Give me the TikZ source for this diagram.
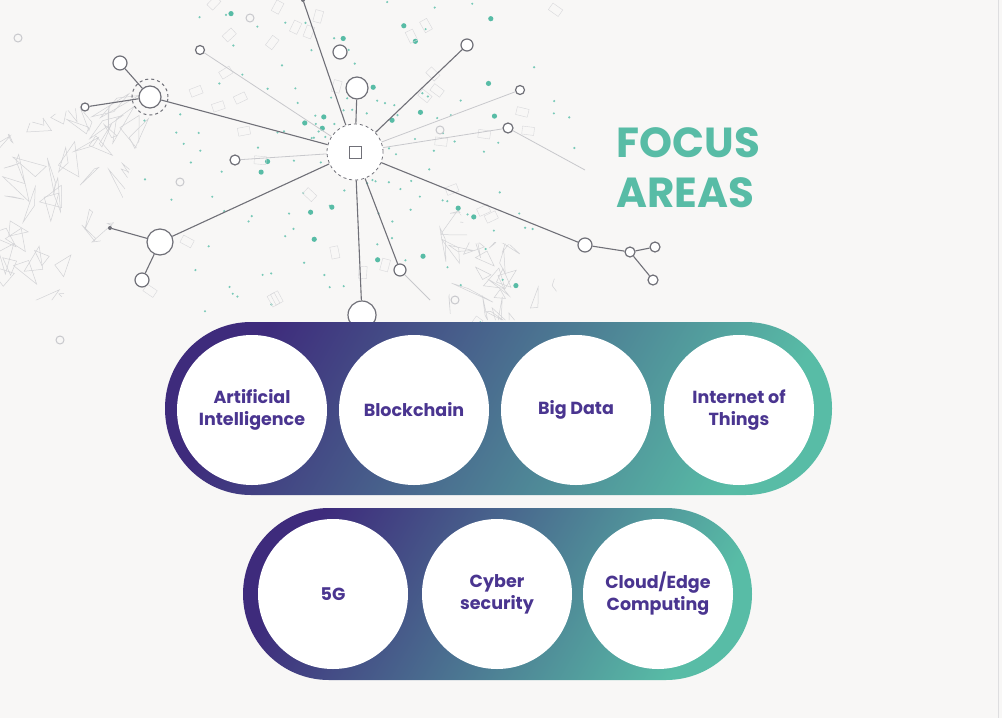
\documentclass[tikz,border=0pt]{standalone}
\usepackage{fontspec}
\setmainfont{Poppins}
\usetikzlibrary{calc}
\definecolor{bg}{HTML}{F8F7F6}
\definecolor{dpur}{HTML}{3E2B7C}
\definecolor{teal}{HTML}{58BCA6}
\definecolor{txt}{HTML}{4A3590}
\definecolor{lin}{HTML}{707078}
\definecolor{mesh}{HTML}{C8C8CC}
\tikzset{
 pill/.style={white,circle,fill=white,minimum size=150pt,inner sep=0pt,text=txt,font=\bfseries\fontsize{17.5}{22}\selectfont,align=center},
 net/.style={lin,line width=1.1pt},
 lnet/.style={mesh,line width=0.8pt},
 nd/.style={circle,draw=lin,fill=white,line width=1.2pt,inner sep=0pt,minimum size=#1},
 dt/.style={circle,fill=lin,inner sep=0pt,minimum size=4pt}
}
\begin{document}
\begin{tikzpicture}[x=1pt,y=-1pt]
\useasboundingbox (0,0) rectangle (1002,718);
\fill[bg] (0,0) rectangle (1002,718);
\draw[mesh!60,line width=1pt] (998,0) -- (998,718);
% hand meshes
\pgfmathsetseed{7}
\begin{scope}
\clip (0,140) .. controls (40,110) and (90,110) .. (130,90) -- (160,100) -- (140,140) .. controls (120,180) and (130,220) .. (90,250) -- (60,300) -- (0,300) -- cycle;
\foreach \i in {1,...,70}{
 \pgfmathsetmacro\ax{rnd*170}\pgfmathsetmacro\ay{90+rnd*210}
 \draw[mesh!80,line width=0.5pt] (\ax,\ay) -- ++(rnd*50-25,rnd*50-25) -- ++(rnd*50-25,rnd*50-25) -- cycle;}
\end{scope}
\begin{scope}
\clip (435,200) -- (455,195) -- (470,245) .. controls (500,235) and (540,250) .. (555,280) -- (560,320) -- (440,320) -- (445,260) -- cycle;
\foreach \i in {1,...,45}{
 \pgfmathsetmacro\ax{430+rnd*135}\pgfmathsetmacro\ay{195+rnd*130}
 \draw[mesh!80,line width=0.5pt] (\ax,\ay) -- ++(rnd*50-25,rnd*50-25) -- ++(rnd*50-25,rnd*50-25) -- cycle;}
\end{scope}
% scattered dots
\foreach \i in {1,...,140}{
 \pgfmathsetmacro\r{30+rnd*200}\pgfmathsetmacro\a{rnd*360}
 \fill[teal!80] ($(355,152)+(\a:\r)$) circle (1.2pt);}
\foreach \i in {1,...,25}{
 \pgfmathsetmacro\r{40+rnd*180}\pgfmathsetmacro\a{rnd*360}
 \fill[teal] ($(355,152)+(\a:\r)$) circle (2.6pt);}
\foreach \i in {1,...,40}{
 \pgfmathsetmacro\r{60+rnd*190}\pgfmathsetmacro\a{rnd*360}
 \draw[mesh!70,rotate around={\a:($(355,152)+(\a:\r)$)}] ($(355,152)+(\a:\r)+(-6,-4)$) rectangle ++(12,8);}
% nodes
\node[nd=56pt,dashed,line width=0.8pt] (H) at (355,152) {};
\node[draw=lin,line width=1pt,minimum size=12pt,inner sep=0pt,fill=white] at (355,152) {};
\node[nd=22pt] (A) at (150,97) {};
\draw[lin,dashed,line width=1pt] (A) circle (18pt);
\node[nd=14pt] (A1) at (120,63) {};
\node[nd=8pt] (A2) at (85,107) {};
\node[nd=26pt] (B) at (160,242) {};
\node[nd=14pt] (B1) at (142,280) {};
\node[dt] (B2) at (110,228) {};
\node[dt] (U) at (303,0) {};
\node[nd=14pt] (U1) at (340,52) {};
\node[nd=22pt] (C) at (357,88) {};
\node[nd=12pt] (D) at (467,45) {};
\node[nd=10pt] (E) at (508,128) {};
\node[nd=14pt] (F) at (585,245) {};
\node[nd=10pt] (F1) at (630,252) {};
\node[nd=10pt] (F2) at (655,247) {};
\node[nd=10pt] (F3) at (653,280) {};
\node[nd=12pt] (G) at (400,270) {};
\node[nd=28pt] (I) at (362,315) {};
\node[nd=10pt] (J) at (235,160) {};
\node[nd=9pt] (K) at (520,90) {};
\node[nd=9pt] (L) at (200,50) {};
\draw[net] (H) -- (A); \draw[net] (A) -- (A1); \draw[net] (A) -- (A2);
\draw[net] (H) -- (B); \draw[net] (B) -- (B1); \draw[net] (B) -- (B2);
\draw[net] (H) -- (U); \draw[net] (H) -- (C);
\draw[net] (H) -- (D); \draw[net] (H) -- (F);
\draw[net] (F) -- (F1) -- (F2); \draw[net] (F1) -- (F3);
\draw[net] (H) -- (G); \draw[net] (H) -- (I);
\draw[lnet] (H) -- (E); \draw[lnet] (H) -- (J); \draw[lnet] (H) -- (K); \draw[lnet] (H) -- (L);
\draw[lnet] (E) -- (585,170); \draw[lnet] (G) -- (430,300);
\foreach \p in {(18,38),(250,18),(180,182),(60,340),(440,130),(455,300)}
 \draw[mesh,line width=1pt] \p circle (4pt);
% title
\node[text=teal,font=\bfseries\fontsize{42}{50}\selectfont,align=left,anchor=west] (T) at (613,168) {FOCUS\\AREAS};
% capsules
\shade[rounded corners=86pt,left color=dpur,right color=teal,shading angle=60] (165,322) rectangle (832,495);
\shade[rounded corners=86pt,left color=dpur,right color=teal,shading angle=60] (243,508) rectangle (752,680);
\node[pill] (p1) at (252,410) {Artificial\\Intelligence};
\node[pill] (p2) at (414,410) {Blockchain};
\node[pill] (p3) at (576,410) {Big Data};
\node[pill] (p4) at (739,410) {Internet of\\Things};
\node[pill] (p5) at (333,594) {5G};
\node[pill] (p6) at (497,594) {Cyber\\security};
\node[pill] (p7) at (658,594) {Cloud/Edge\\Computing};
\end{tikzpicture}
\end{document}
